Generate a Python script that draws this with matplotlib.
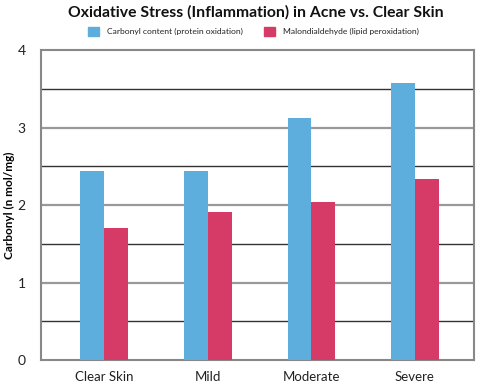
import numpy as np
import matplotlib
matplotlib.use('Agg')
import matplotlib.pyplot as plt
from matplotlib.patches import Rectangle

plt.rcParams['font.family'] = ['Lato', 'DejaVu Sans']

# Data
categories = ['Clear Skin', 'Mild', 'Moderate', 'Severe']
carbonyl = [2.44, 2.44, 3.12, 3.57]
malondialdehyde = [1.70, 1.91, 2.04, 2.33]
series_names = ['Carbonyl content (protein oxidation)', 'Malondialdehyde (lipid peroxidation)']
yticks = [0, 1, 2, 3, 4]

blue = '#5DAEDD'
red = '#D63B68'

fig = plt.figure(figsize=(4.78, 3.82), dpi=100)
ax = fig.add_axes([0.0858, 0.0576, 0.9058, 0.8114])

x = np.arange(len(categories))
w = 0.23
ax.bar(x, carbonyl, width=w, align='edge', color=blue, zorder=3)
ax.bar(x + w, malondialdehyde, width=w, align='edge', color=red, zorder=3)

ax.set_xlim(-0.38, 3.80)
ax.set_ylim(0, 4)

# gridlines: half steps dark, whole steps grey
for v in np.arange(0.5, 4, 1.0):
    ax.axhline(v, color='#333333', lw=1.0, zorder=1)
for v in [1, 2, 3]:
    ax.axhline(v, color='#999999', lw=1.6, zorder=1)

for s in ax.spines.values():
    s.set_color('#888888')
    s.set_linewidth(1.5)

ax.set_yticks(yticks)
ax.set_yticklabels([str(t) for t in yticks], fontsize=10, color='#222222')
ax.set_xticks(x + w)
ax.set_xticklabels(categories, fontsize=9.5, color='#222222')
ax.tick_params(axis='y', length=0, pad=11)
ax.tick_params(axis='x', length=0, pad=8)

ax.set_ylabel('Carbonyl (n mol/mg)', fontsize=8.5, fontweight='bold')
ax.yaxis.set_label_coords(-0.060, 0.5)

fig.text(0.535, 0.967, 'Oxidative Stress (Inflammation) in Acne vs. Clear Skin',
         ha='center', va='center', fontsize=11.3, fontweight='bold', color='#111111')

# legend
fig.patches.append(Rectangle((88 / 478, 1 - 36 / 382), 11 / 478, 9 / 382,
                             transform=fig.transFigure, color=blue))
fig.text(107 / 478, 1 - 31.5 / 382, series_names[0], fontsize=6.1, va='center', color='#222222')
fig.patches.append(Rectangle((264 / 478, 1 - 36 / 382), 11 / 478, 9 / 382,
                             transform=fig.transFigure, color=red))
fig.text(283 / 478, 1 - 31.5 / 382, series_names[1], fontsize=6.1, va='center', color='#222222')

fig.savefig('out.png', dpi=100)
